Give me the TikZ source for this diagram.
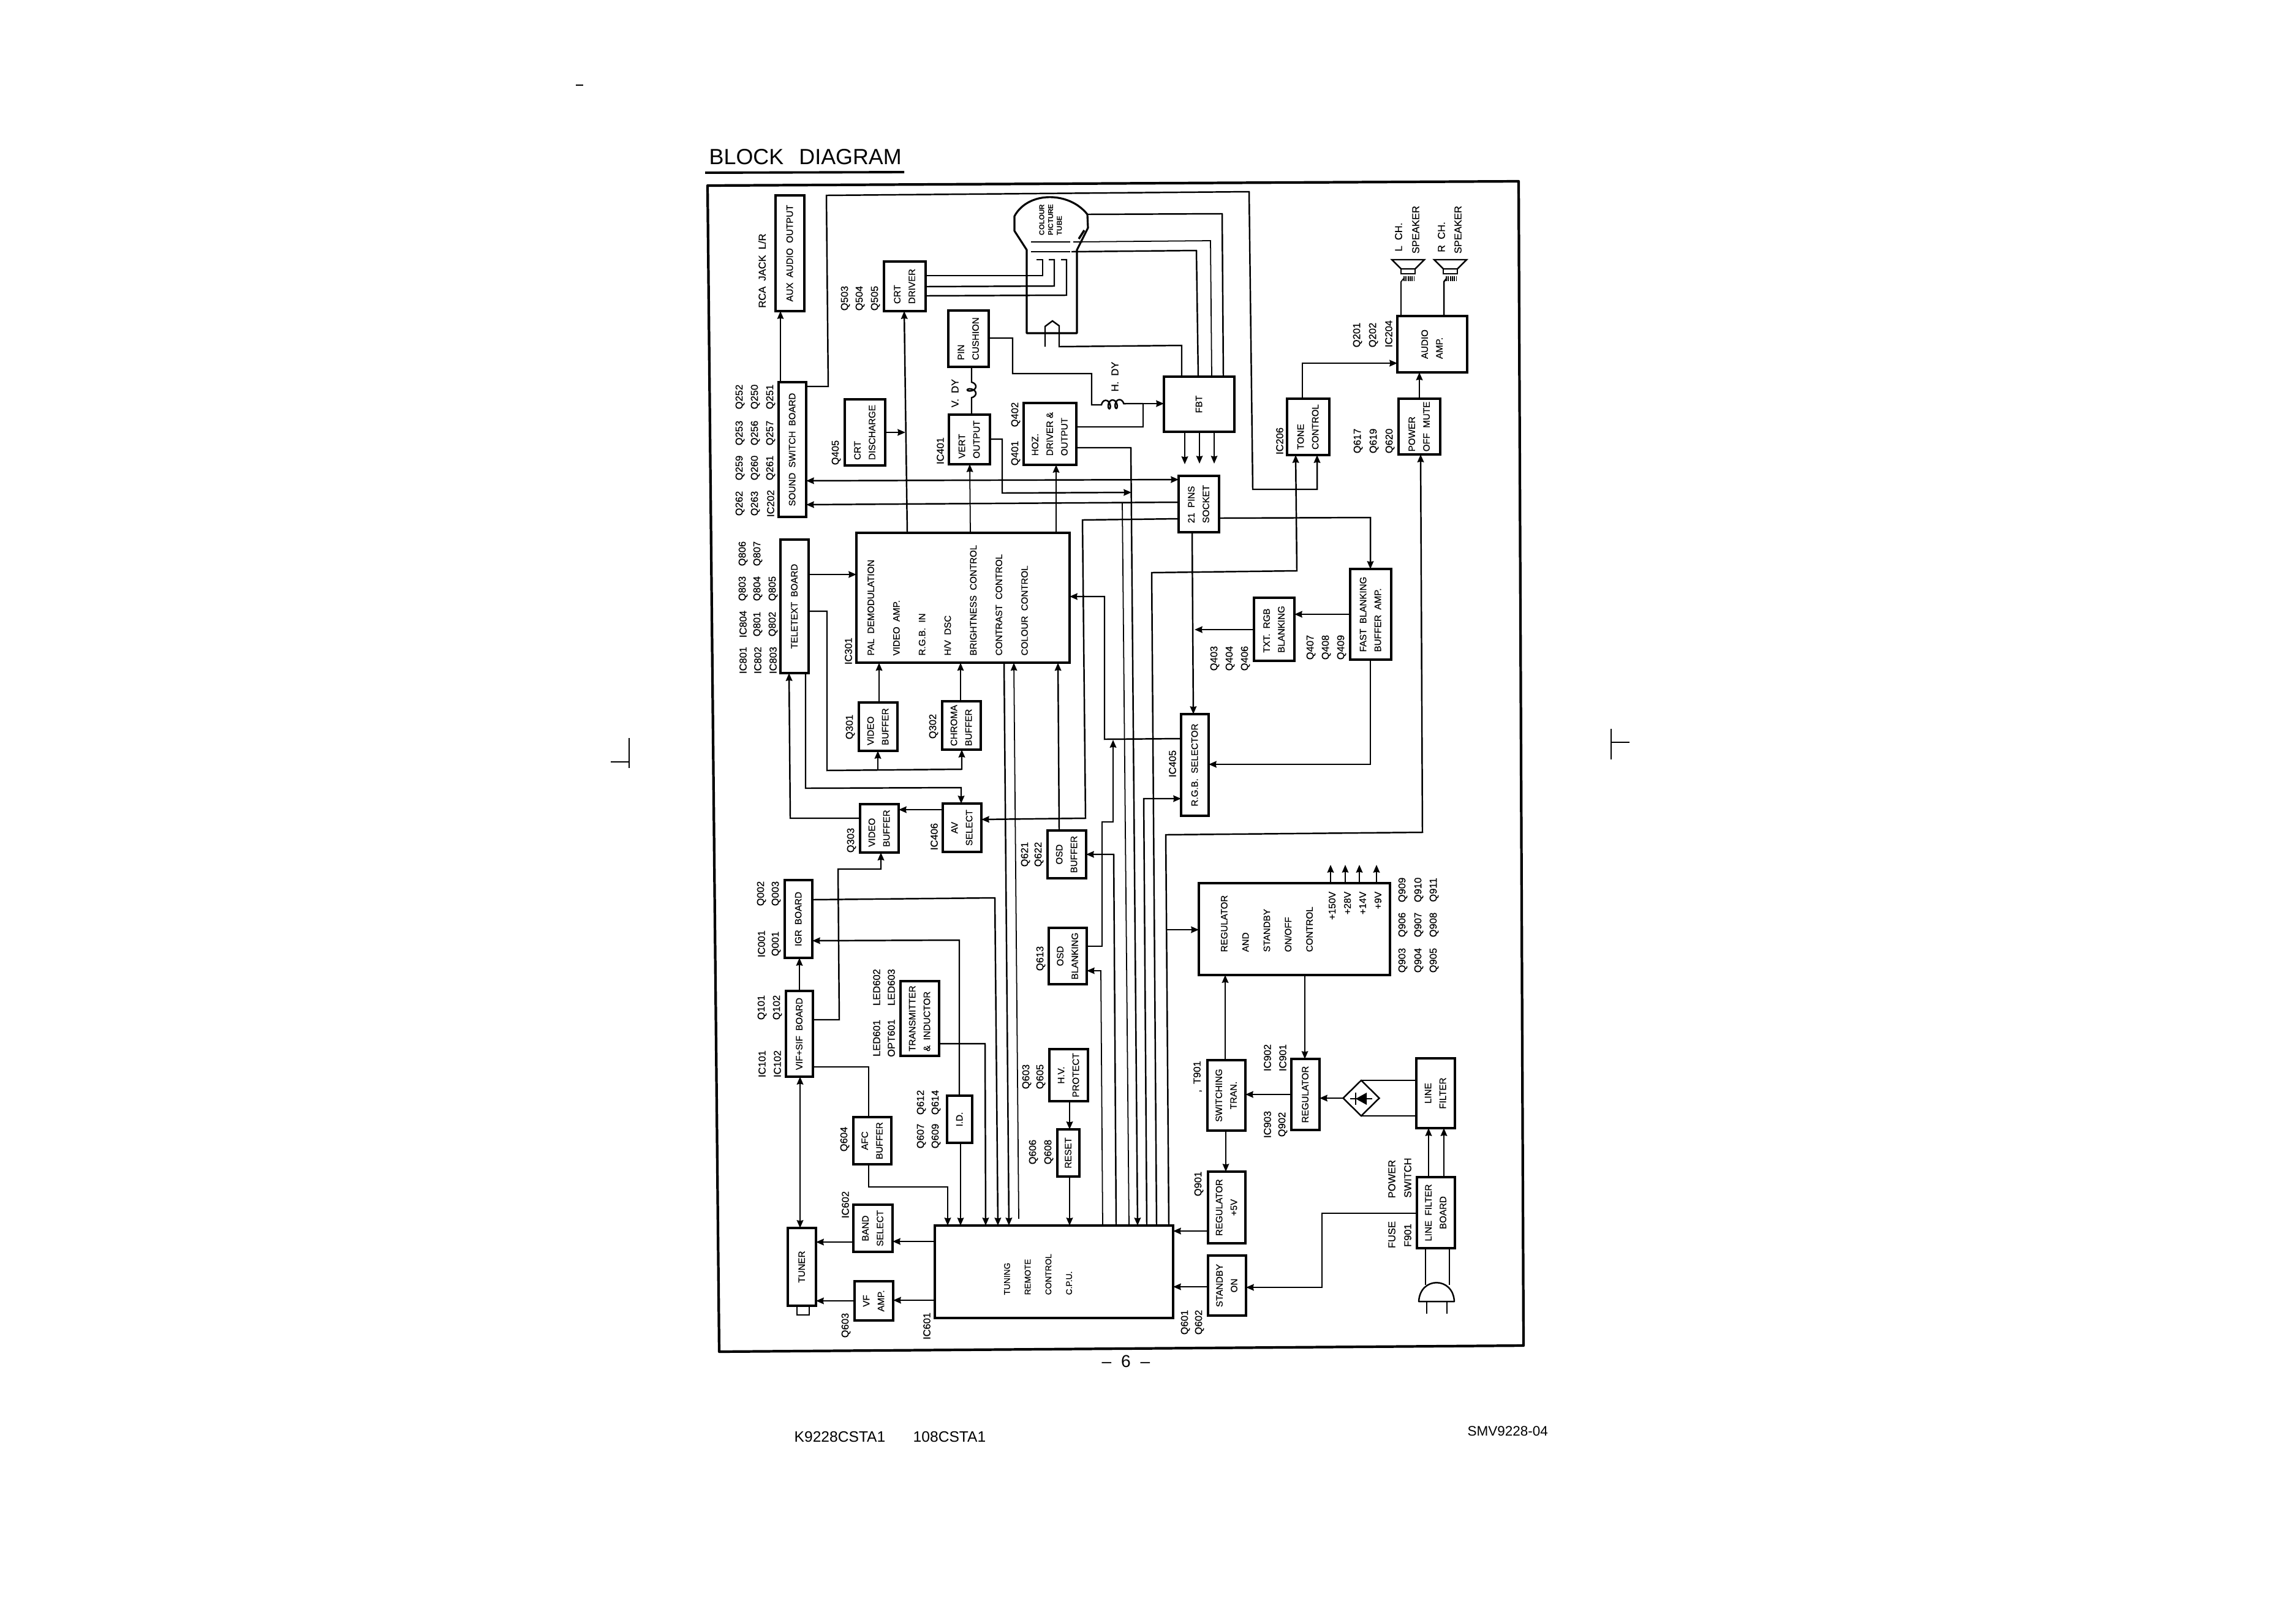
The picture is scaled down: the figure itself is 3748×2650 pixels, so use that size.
\documentclass[tikz,border=0pt]{standalone}
\usepackage{graphicx}
\usepackage{fontspec}
\setmainfont{Liberation Sans}
\newfontfamily\scanfont[FakeBold=0.3]{Liberation Sans}
\usepackage{tikz}
\usetikzlibrary{arrows.meta, shapes.geometric, decorations.pathmorphing}

% upright tabular turned on its side
\newcommand{\rottext}[2][c]{\rotatebox{90}{\begin{tabular}{@{}#1@{}}#2\end{tabular}}}
% block given by its two corners
\newcommand{\boxat}[7][c]{\node[block, minimum width={(#5-#3)*0.1mm}, minimum height={(#6-#4)*0.1mm}]
  (#2) at ({(#3+#5)/2},{(#4+#6)/2}) {\rottext[#1]{#7}};}
% speaker cone, x is the left end of the cone
\newcommand{\speakerat}[1]{\begin{scope}[shift={(#1,0)}]
  \draw[wire] (0,424) -- (53,424) -- (38,439) -- (15,439) -- cycle;
  \draw[wire] (15,439) rectangle (38,447);
  \draw[line width=2.2pt, dash pattern=on 0.6pt off 0.35pt] (19,455) -- (37,455);
\end{scope}}

\begin{document}
\begin{tikzpicture}[x=0.1mm, y=-0.1mm,
  block/.style={rectangle, draw, line width=1.05pt, inner sep=0pt, outer sep=0pt,
    font=\scanfont\fontsize{4.3}{6.8}\selectfont},
  tag/.style={rotate=90, inner sep=0pt, font=\scanfont\fontsize{4.7}{6}\selectfont},
  listtext/.style={rotate=90, inner sep=0pt, align=left, anchor=west},
  wire/.style={line width=0.7pt},
  fine/.style={line width=0.5pt},
  frame/.style={line width=1.2pt, line join=round},
  >={Stealth[length=3.6pt, width=3pt, inset=0.3pt]}
]
  \useasboundingbox (0,0) rectangle (3748,2650);

  % page furniture
  \node[anchor=west, inner sep=0pt, font=\fontsize{10.2}{12}\selectfont] (title) at (1157,256) {BLOCK\hspace{1.5pt}~~DIAGRAM};
  \draw[line width=1.1pt] (1151,282) -- (1476,281);
  \draw[frame] (1155,303) -- (2479,296) -- (2487,2197) -- (1174,2207) -- cycle;
  \node[inner sep=0pt, font=\fontsize{8}{10}\selectfont] (pageno) at (1838,2223) {--\hspace{4.5pt}6\hspace{4.5pt}--};
  \node[anchor=west, inner sep=0pt, font=\fontsize{7}{9}\selectfont] (modela) at (1296,2346) {K9228CSTA1};
  \node[anchor=west, inner sep=0pt, font=\fontsize{7}{9}\selectfont] (modelb) at (1490,2346) {108CSTA1};
  \node[anchor=west, inner sep=0pt, font=\fontsize{6.4}{8}\selectfont] (docno) at (2395,2337) {SMV9228-04};
  \draw[line width=0.6pt] (940,139) -- (952,139);
  \draw[line width=0.6pt] (997,1244) -- (1027,1244) (1027,1205) -- (1027,1254);
  \draw[line width=0.6pt] (2630,1190) -- (2630,1240) (2630,1212) -- (2660,1212);

  % top row, audio and picture tube drive
  \boxat{aux}{1266}{319}{1313}{508}{AUX~~AUDIO~~OUTPUT}
  \boxat{sound}{1271}{624}{1316}{844}{SOUND~~SWITCH~~BOARD}
  \boxat[l]{crtdrv}{1443}{427}{1511}{508}{CRT\\DRIVER}
  \boxat[l]{crtdis}{1379}{652}{1445}{760}{CRT\\DISCHARGE}
  \boxat[l]{pincush}{1548}{507}{1614}{599}{PIN\\CUSHION}
  \boxat[l]{vertout}{1549}{677}{1616}{758}{VERT\\OUTPUT}
  \boxat[l]{hoz}{1671}{658}{1757}{759}{HOZ.\\DRIVER \&\\OUTPUT}
  \boxat{fbt}{1900}{615}{2015}{705}{FBT}
  \boxat[l]{pinsock}{1924}{777}{1990}{869}{21~~PINS\\SOCKET}
  \boxat[l]{tone}{2101}{651}{2170}{743}{TONE\\CONTROL}
  \boxat[l]{mute}{2283}{651}{2351}{742}{POWER\\OFF~~MUTE}
  \boxat[l]{audio}{2281}{516}{2395}{608}{AUDIO\\AMP.}

  % signal processing
  \boxat{teletext}{1274}{881}{1320}{1099}{TELETEXT~~BOARD}
  \node[block, minimum width=99mm*0.3515, minimum height=60.5mm*0.3515] (ic301) at (1572,976) {};
  \node[listtext, font=\scanfont\fontsize{4.3}{11.9}\selectfont] (ic301txt) at (1547,1071)
    {PAL~~DEMODULATION\\VIDEO~~AMP.\\R.G.B.~~IN\\H/V~~DSC\\BRIGHTNESS~~CONTROL\\CONTRAST~~CONTROL\\COLOUR~~CONTROL};
  \boxat[l]{vbufa}{1402}{1147}{1465}{1226}{VIDEO\\BUFFER}
  \boxat[l]{chroma}{1538}{1145}{1601}{1224}{CHROMA\\BUFFER}
  \boxat{avsel}{1539}{1312}{1602}{1391}{AV\\SELECT}
  \boxat[l]{vbufb}{1404}{1313}{1467}{1392}{VIDEO\\BUFFER}
  \boxat{osdbuf}{1710}{1356}{1773}{1434}{OSD\\BUFFER}
  \boxat{rgbsel}{1928}{1166}{1973}{1332}{R.G.B.~~SELECTOR}
  \boxat[l]{txtblank}{2047}{976}{2113}{1079}{TXT.~~RGB\\BLANKING}
  \boxat[l]{fastblank}{2204}{929}{2271}{1077}{FAST~~BLANKING\\BUFFER~~AMP.}

  % tuning and control
  \boxat{igr}{1281}{1437}{1326}{1564}{IGR~~BOARD}
  \boxat{vif}{1283}{1618}{1327}{1758}{VIF+SIF~~BOARD}
  \boxat[l]{trans}{1470}{1602}{1533}{1724}{TRANSMITTER\\\&~~INDUCTOR}
  \boxat{afc}{1393}{1824}{1455}{1901}{AFC\\BUFFER}
  \boxat{iddet}{1546}{1789}{1587}{1866}{I.D.}
  \boxat{osdblank}{1712}{1515}{1774}{1607}{OSD\\BLANKING}
  \boxat{hvprot}{1713}{1713}{1776}{1798}{H.V.\\PROTECT}
  \boxat{resetbox}{1726}{1844}{1762}{1921}{RESET}
  \boxat{tuner}{1286}{2005}{1332}{2132}{TUNER}
  \boxat{band}{1393}{1967}{1457}{2044}{BAND\\SELECT}
  \boxat{vfamp}{1395}{2092}{1458}{2156}{VF\\AMP.}
  \node[block, line width=0.6pt, minimum width=20*0.1mm, minimum height=14*0.1mm] (tunerjack) at (1311,2140) {};
  \node[block, minimum width=38.9mm, minimum height=15.1mm] (cpu) at (1720.5,2076.5) {};
  \node[listtext, font=\scanfont\fontsize{3.9}{9.6}\selectfont] (cputxt) at (1694.5,2115) {TUNING\\REMOTE\\CONTROL\\C.P.U.};

  % power supply
  \node[block, minimum width=31.2mm, minimum height=15mm] (reg) at (2113,1517) {};
  \node[listtext, font=\scanfont\fontsize{4.3}{9.9}\selectfont] (regtxt) at (2068,1555) {REGULATOR\\AND\\STANDBY\\ON/OFF\\CONTROL};
  \node[rotate=90, inner sep=0pt, align=right, anchor=east, font=\scanfont\fontsize{4.5}{7.1}\selectfont] (voltages) at (2212,1455) {+150V\\+28V\\+14V\\+9V};
  \boxat{switching}{1971}{1731}{2033}{1846}{SWITCHING\\TRAN.}
  \boxat{regb}{2108}{1729}{2154}{1845}{REGULATOR}
  \boxat{regc}{1972}{1913}{2033}{2030}{REGULATOR\\+5V}
  \boxat{standby}{1972}{2050}{2034}{2148}{STANDBY\\ON}
  \boxat{linefilt}{2312}{1728}{2375}{1842}{LINE\\FILTER}
  \boxat{lfboard}{2313}{1922}{2375}{2038}{LINE~~FILTER\\BOARD}
  \node[diamond, draw, wire, inner sep=0pt, outer sep=0pt, aspect=1, minimum width=5.9mm, minimum height=5.8mm] (bridge) at (2222,1793) {};

  % part numbers
  \node[tag] (q252) at (1208,648) {Q252};
  \node[tag] (q253) at (1208,707) {Q253};
  \node[tag] (q259) at (1208,764) {Q259};
  \node[tag] (q262) at (1208,822) {Q262};
  \node[tag] (q250) at (1233,648) {Q250};
  \node[tag] (q256) at (1233,707) {Q256};
  \node[tag] (q260) at (1233,764) {Q260};
  \node[tag] (q263) at (1233,822) {Q263};
  \node[tag] (q251) at (1258,648) {Q251};
  \node[tag] (q257) at (1258,707) {Q257};
  \node[tag] (q261) at (1258,764) {Q261};
  \node[tag] (ic202) at (1258,822) {IC202};
  \node[tag] (rcajack) at (1244,442) {RCA~~JACK~~L/R};
  \node[tag] (q503) at (1380,487) {Q503};
  \node[tag] (q504) at (1404,487) {Q504};
  \node[tag] (q505) at (1429,487) {Q505};
  \node[tag] (q405) at (1365,739) {Q405};
  \node[tag] (ic401) at (1535,736) {IC401};
  \node[tag] (vdy) at (1559,642) {V.~~DY};
  \node[tag] (hdy) at (1820,615) {H.~~DY};
  \node[tag] (q401) at (1658,740) {Q401};
  \node[tag] (q402) at (1658,677) {Q402};
  \node[tag] (lch) at (2283,387) {L~~CH.};
  \node[tag] (lspk) at (2311,375) {SPEAKER};
  \node[tag] (rch) at (2353,387) {R~~CH.};
  \node[tag] (rspk) at (2380,375) {SPEAKER};
  \node[tag] (q201) at (2216,547) {Q201};
  \node[tag] (q202) at (2242,547) {Q202};
  \node[tag] (ic204) at (2267,545) {IC204};
  \node[tag] (ic206) at (2089,720) {IC206};
  \node[tag] (q617) at (2217,720) {Q617};
  \node[tag] (q619) at (2243,720) {Q619};
  \node[tag] (q620) at (2269,720) {Q620};
  \node[tag] (ic801) at (1213,1078) {IC801};
  \node[tag] (ic804) at (1213,1019) {IC804};
  \node[tag] (q803) at (1213,961) {Q803};
  \node[tag] (q806) at (1213,904) {Q806};
  \node[tag] (ic802) at (1237,1078) {IC802};
  \node[tag] (q801) at (1237,1019) {Q801};
  \node[tag] (q804) at (1237,961) {Q804};
  \node[tag] (q807) at (1237,904) {Q807};
  \node[tag] (ic803) at (1262,1078) {IC803};
  \node[tag] (q802) at (1262,1019) {Q802};
  \node[tag] (q805) at (1262,961) {Q805};
  \node[tag] (ic301lbl) at (1385,1063) {IC301};
  \node[tag] (q301) at (1388,1187) {Q301};
  \node[tag] (q302) at (1524,1186) {Q302};
  \node[tag] (q303) at (1390,1372) {Q303};
  \node[tag] (ic406) at (1525,1366) {IC406};
  \node[tag] (q621) at (1674,1395) {Q621};
  \node[tag] (q622) at (1696,1395) {Q622};
  \node[tag] (ic405) at (1914,1247) {IC405};
  \node[tag] (q403) at (1983,1075) {Q403};
  \node[tag] (q404) at (2008,1075) {Q404};
  \node[tag] (q406) at (2033,1075) {Q406};
  \node[tag] (q407) at (2140,1057) {Q407};
  \node[tag] (q408) at (2165,1057) {Q408};
  \node[tag] (q409) at (2190,1057) {Q409};
  \node[tag] (q002) at (1243,1459) {Q002};
  \node[tag] (q003) at (1267,1459) {Q003};
  \node[tag] (ic001) at (1243,1541) {IC001};
  \node[tag] (q001) at (1267,1541) {Q001};
  \node[tag] (q101) at (1244,1645) {Q101};
  \node[tag] (q102) at (1269,1645) {Q102};
  \node[tag] (ic101) at (1244,1737) {IC101};
  \node[tag] (ic102) at (1269,1737) {IC102};
  \node[tag] (led602) at (1431,1612) {LED602};
  \node[tag] (led603) at (1455,1612) {LED603};
  \node[tag] (led601) at (1431,1695) {LED601};
  \node[tag] (opt601) at (1455,1695) {OPT601};
  \node[tag] (q604) at (1379,1860) {Q604};
  \node[tag] (q607) at (1504,1855) {Q607};
  \node[tag] (q609) at (1528,1855) {Q609};
  \node[tag] (q612) at (1504,1800) {Q612};
  \node[tag] (q614) at (1528,1800) {Q614};
  \node[tag] (q613) at (1699,1565) {Q613};
  \node[tag] (q603a) at (1676,1758) {Q603};
  \node[tag] (q605) at (1699,1758) {Q605};
  \node[tag] (q606) at (1687,1881) {Q606};
  \node[tag] (q608) at (1712,1881) {Q608};
  \node[tag] (ic602) at (1380,1967) {IC602};
  \node[tag] (q603b) at (1381,2164) {Q603};
  \node[tag] (ic601) at (1513,2165) {IC601};
  \node[tag] (q601) at (1935,2159) {Q601};
  \node[tag] (q602) at (1958,2159) {Q602};
  \node[tag] (q901) at (1957,1933) {Q901};
  \node[tag] (t901) at (1955,1758) {,~~T901};
  \node[tag] (ic902) at (2069,1727) {IC902};
  \node[tag] (ic901) at (2094,1727) {IC901};
  \node[tag] (ic903) at (2069,1836) {IC903};
  \node[tag] (q902) at (2094,1836) {Q902};
  \node[tag] (q909) at (2290,1453) {Q909};
  \node[tag] (q910) at (2316,1453) {Q910};
  \node[tag] (q911) at (2341,1453) {Q911};
  \node[tag] (q906) at (2290,1510) {Q906};
  \node[tag] (q907) at (2316,1510) {Q907};
  \node[tag] (q908) at (2341,1510) {Q908};
  \node[tag] (q903) at (2290,1568) {Q903};
  \node[tag] (q904) at (2316,1568) {Q904};
  \node[tag] (q905) at (2341,1568) {Q905};
  \node[tag] (power) at (2272,1925) {POWER};
  \node[tag] (switch) at (2298,1923) {SWITCH};
  \node[tag] (fuse) at (2272,2016) {FUSE};
  \node[tag] (f901) at (2298,2017) {F901};

  % colour picture tube
  \draw[wire, line width=0.9pt, line join=round] (1676,408) -- (1656,377) -- (1656,353)
    .. controls (1678,312) and (1745,312) .. (1775,350) -- (1776,372) -- (1758,408)
    -- (1758,544) -- (1676,544) -- cycle;
  \node[rotate=90, inner sep=0pt, align=left, anchor=west, font=\fontsize{3.3}{4.1}\selectfont\bfseries] (tubetxt) at (1715,385) {COLOUR\\PICTURE\\TUBE};
  \coordinate (gunr) at (1692,424);
  \coordinate (gung) at (1712,424);
  \coordinate (gunb) at (1732,424);
  \coordinate (gridb) at (1752,395);
  \coordinate (gridc) at (1749,411);
  \coordinate (anode) at (1775,350);
  \coordinate (yokeleg) at (1706,566);
  \draw[fine] (1683,395) -- (1747,395);
  \draw[fine] (1683,411) -- (1747,411);
  \draw[line width=1pt] (1761,390) -- (1770,376);
  \draw[wire] (crtdrv.east |- 0,450) -- (1702,450) -- (1702,424) -- (gunr);
  \draw[wire] (crtdrv.east |- 0,468) -- (1721,467) -- (1721,424) -- (gung);
  \draw[wire] (crtdrv.east |- 0,483) -- (1741,482) -- (1741,424) -- (gunb);
  \draw[wire] (anode) -- (1995,349) -- (fbt.north -| 1997,0);
  \draw[fine] (gridb) -- (1976,393) -- (fbt.north -| 1978,0);
  \draw[wire] (gridc) -- (1953,409) -- (fbt.north -| 1956,0);
  \draw[wire] (yokeleg) -- (1706,533) -- (1718,524) -- (1729,532) -- (1729,566) -- (1929,564) -- (fbt.north -| 1929,0);

  % deflection coils
  \draw[wire] (pincush.south -| 1586,0) -- (1586,624)
    decorate[decoration={coil, aspect=0.6, amplitude=2pt, segment length=3.2pt}] {-- (1586,660)}
    -- (vertout.north -| 1586,0);
  \draw[wire] (pincush.east |- 0,552) -- (1653,552) -- (1653,610) -- (1782,610) -- (1782,661) -- (1798,661)
    decorate[decoration={coil, aspect=0.6, amplitude=2pt, segment length=3.2pt}] {-- (1838,659)}
    -- (1866,659);
  \draw[wire, ->] (1866,659) -- (fbt.west |- 0,659);
  \draw[fine] (hoz.east |- 0,697) -- (1866,697) -- (1866,659);

  % FBT down to the socket
  \draw[wire, ->] (fbt.south -| 1934,0) -- (1934,758);
  \draw[fine, ->] (fbt.south -| 1958,0) -- (1958,757);
  \draw[fine, ->] (fbt.south -| 1982,0) -- (1982,757);

  % audio side
  \draw[fine, ->] (sound.north -| 1274,0) -- (aux.south -| 1274,0);
  \draw[wire, ->] (sound.east |- 0,631) -- (1352,631) -- (1349,319) -- (2039,313) -- (2045,799) -- (2150,799) -- (tone.south -| 2150,0);
  \draw[wire, ->] (tone.north -| 2126,0) -- (2126,593) -- (audio.west |- 0,593);
  \draw[wire, ->] (mute.north -| 2317,0) -- (audio.south -| 2317,0);
  \speakerat{2272}
  \speakerat{2341}
  \draw[fine] (audio.north -| 2287,0) -- (2287,460) -- (2291,455);
  \draw[wire] (audio.north -| 2357,0) -- (2357,460) -- (2361,455);

  % around the video processor
  \draw[wire, ->] (ic301.north -| 1481,0) -- (crtdrv.south -| 1476,0);
  \draw[wire, ->] (crtdis.east |- 0,706) -- (1478,706);
  \draw[fine, ->] (ic301.north -| 1584,0) -- (vertout.south -| 1583,0);
  \draw[wire, ->] (ic301.north -| 1724,0) -- (hoz.south -| 1724,0);
  \draw[wire, ->] (teletext.east |- 0,938) -- (ic301.west |- 0,938);
  \draw[wire, ->] (teletext.east |- 0,998) -- (1350,998) -- (1350,1258) -- (1570,1256) -- (chroma.south -| 1570,0);
  \draw[wire, ->] (1433,1257) -- (vbufa.south -| 1433,0);
  \draw[wire, ->] (vbufa.north -| 1435,0) -- (ic301.south -| 1435,0);
  \draw[fine, ->] (chroma.north -| 1568,0) -- (ic301.south -| 1568,0);
  \draw[wire, ->] (teletext.south -| 1315,0) -- (1315,1287) -- (1569,1286) -- (avsel.north -| 1569,0);
  \draw[wire, ->] (avsel.west |- 0,1322) -- (vbufb.east |- 0,1322);
  \draw[wire, ->] (vbufb.west |- 0,1336) -- (1290,1336) -- (teletext.south -| 1288,0);
  \draw[wire, ->] (vif.east |- 0,1665) -- (1370,1665) -- (1368,1419) -- (1438,1419) -- (vbufb.south -| 1438,0);
  \draw[wire, <->] (sound.east |- 0,785) -- (pinsock.west |- 0,783);
  \draw[wire, ->] (pinsock.west |- 0,820) -- (sound.east |- 0,824);
  \draw[wire, ->] (pinsock.west |- 0,847) -- (1767,849) -- (1772,1336) -- (avsel.east |- 0,1338);
  \draw[wire, ->] (vertout.east |- 0,717) -- (1636,717) -- (1636,805) -- (1847,804);
  \draw[wire, ->] (rgbsel.west |- 0,1206) -- (1803,1207) -- (1803,974) -- (ic301.east |- 0,974);
  \draw[wire, ->] (osdblank.east |- 0,1545) -- (1799,1545) -- (1799,1342) -- (1817,1342) -- (1817,1208);
  \draw[wire, ->] (osdbuf.north -| 1729,0) -- (ic301.south -| 1727,0);

  % socket and RGB selector
  \draw[wire, ->] (pinsock.east |- 0,846) -- (2237,845) -- (fastblank.north -| 2237,0);
  \draw[wire, ->] (pinsock.south -| 1946,0) -- (rgbsel.north -| 1948,0);
  \draw[wire, ->] (fastblank.south -| 2237,0) -- (2237,1248) -- (rgbsel.east |- 0,1248);
  \draw[wire, ->] (fastblank.west |- 0,1003) -- (txtblank.east |- 0,1003);
  \draw[wire, ->] (txtblank.west |- 0,1028) -- (1950,1028);

  % buses into the CPU
  \draw[wire, ->] (ic301.south -| 1639,0) -- (cpu.north -| 1647,0);
  \draw[fine, ->] (1663,1990) -- (ic301.south -| 1655,0);
  \draw[wire, ->] (igr.east |- 0,1469) -- (1624,1466) -- (cpu.north -| 1629,0);
  \draw[wire, ->] (trans.east |- 0,1704) -- (1608,1704) -- (cpu.north -| 1609,0);
  \draw[wire, ->] (iddet.north -| 1566,0) -- (1566,1535) -- (igr.east |- 0,1536);
  \draw[fine, ->] (iddet.south -| 1568,0) -- (cpu.north -| 1568,0);
  \draw[wire] (vif.east |- 0,1742) -- (1418,1742) -- (afc.north -| 1418,0);
  \draw[wire, ->] (afc.south -| 1418,0) -- (1418,1938) -- (1547,1938) -- (cpu.north -| 1547,0);
  \draw[wire, ->] (hvprot.south -| 1746,0) -- (resetbox.north -| 1746,0);
  \draw[wire, ->] (resetbox.south -| 1746,0) -- (cpu.north -| 1746,0);
  \draw[fine, ->] (cpu.north -| 1800,0) -- (1797,1585) -- (osdblank.east |- 0,1585);
  \draw[wire, ->] (cpu.north -| 1822,0) -- (1818,1395) -- (osdbuf.east |- 0,1395);
  \draw[fine] (1832,821) -- (cpu.north -| 1843,0);
  \draw[wire, ->] (hoz.east |- 0,731) -- (1846,731) -- (cpu.north -| 1857,0);
  \draw[wire, ->] (cpu.north -| 1872,0) -- (1867,1304) -- (rgbsel.west |- 0,1304);
  \draw[wire, ->] (cpu.north -| 1888,0) -- (1880,935) -- (2117,932) -- (tone.south -| 2115,0);
  \draw[wire, ->] (cpu.north -| 1908,0) -- (1903,1363) -- (2322,1359) -- (mute.south -| 2319,0);
  \draw[wire, ->] (1905,1518) -- (reg.west |- 0,1518);

  % tuner side
  \draw[wire, ->] (vif.north -| 1305,0) -- (igr.south -| 1305,0);
  \draw[wire, <->] (vif.south -| 1306,0) -- (tuner.north -| 1306,0);
  \draw[wire, ->] (cpu.west |- 0,2027) -- (band.east |- 0,2027);
  \draw[wire, ->] (band.west |- 0,2028) -- (tuner.east |- 0,2028);
  \draw[wire, ->] (cpu.west |- 0,2123) -- (vfamp.east |- 0,2123);
  \draw[wire, ->] (vfamp.west |- 0,2124) -- (tuner.east |- 0,2124);

  % power supply wiring
  \draw[wire, ->] (reg.north -| 2172,0) -- (2172,1412);
  \draw[fine, ->] (reg.north -| 2196,0) -- (2196,1412);
  \draw[wire, ->] (reg.north -| 2219,0) -- (2219,1412);
  \draw[wire, ->] (reg.north -| 2247,0) -- (2247,1412);
  \draw[wire, ->] (switching.north -| 2000,0) -- (reg.south -| 2000,0);
  \draw[fine, ->] (reg.south -| 2130,0) -- (regb.north -| 2130,0);
  \draw[wire, ->] (regb.west |- 0,1787) -- (switching.east |- 0,1787);
  \draw[fine, ->] (switching.south -| 2001,0) -- (regc.north -| 2001,0);
  \draw[wire, ->] (regc.west |- 0,2010) -- (cpu.east |- 0,2010);
  \draw[wire, ->] (standby.west |- 0,2101) -- (cpu.east |- 0,2101);
  \draw[wire, ->] (lfboard.west |- 0,1981) -- (2158,1981) -- (2158,2102) -- (standby.east |- 0,2102);
  \draw[wire, ->] (bridge.west) -- (regb.east |- bridge.west);
  \draw[wire] (bridge.north) -- (linefilt.west |- bridge.north);
  \draw[wire] (bridge.south) -- (linefilt.west |- bridge.south);
  \draw[wire, ->] (lfboard.north -| 2332,0) -- (linefilt.south -| 2332,0);
  \draw[wire, ->] (lfboard.north -| 2357,0) -- (linefilt.south -| 2357,0);

  % rectifier symbol
  \draw[fine] (2204,1794) -- (2240,1794);
  \fill (2213,1794) -- (2231,1784) -- (2231,1804) -- cycle;
  \draw[fine] (2213,1784) -- (2213,1804);

  % mains plug
  \coordinate (pluga) at (2327,2098);
  \coordinate (plugb) at (2366,2098);
  \draw[wire] (lfboard.south -| 2327,0) -- (pluga);
  \draw[fine] (lfboard.south -| 2366,0) -- (plugb);
  \draw[wire, line join=round] (2316,2125) .. controls (2318,2084) and (2372,2084) .. (2374,2125) -- cycle;
  \draw[fine] (2329,2125) -- (2329,2145);
  \draw[fine] (2362,2125) -- (2362,2145);
\end{tikzpicture}
\end{document}
